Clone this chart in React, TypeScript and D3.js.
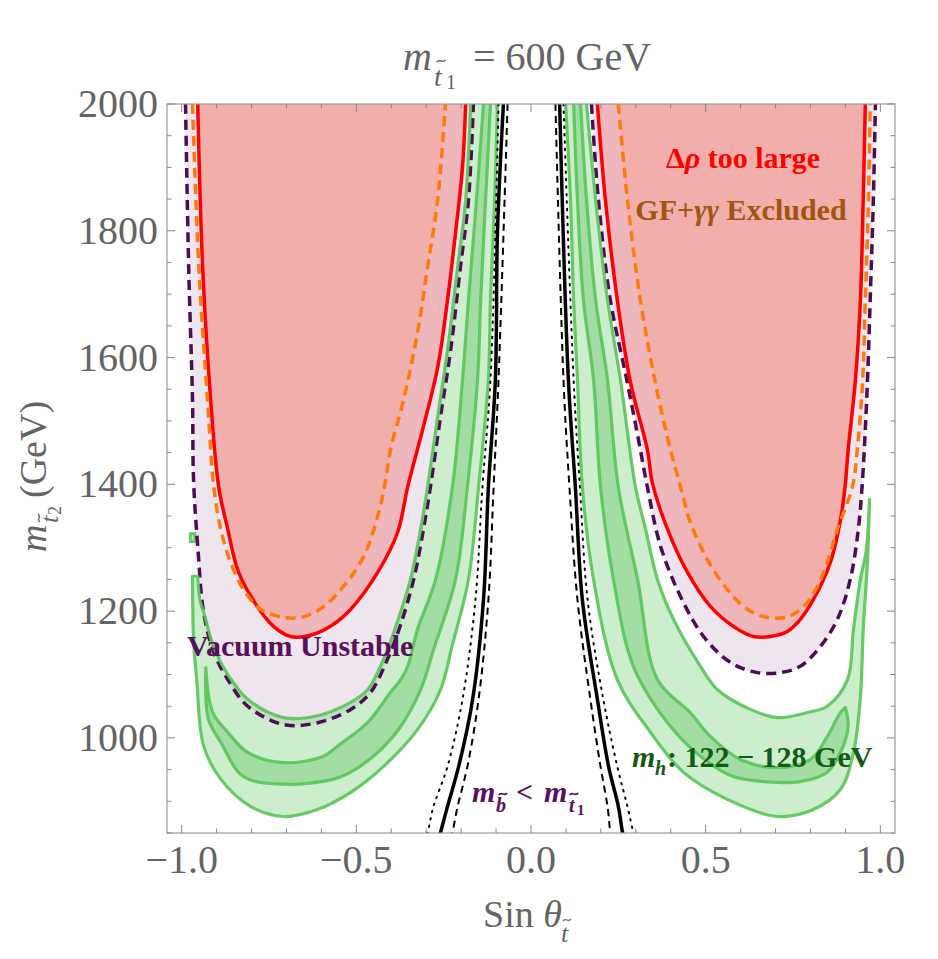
import React from "react";
import * as d3 from "d3";

type Pt = [number, number];

// [sin theta, m_t2 (GeV)] along each boundary

// Delta rho exclusion (solid red)
const deltaRhoLeft: Pt[] = [
  [-0.954, 2000], [-0.94, 1743], [-0.917, 1533], [-0.894, 1396], [-0.868, 1329], [-0.837, 1261],
  [-0.783, 1207], [-0.737, 1176], [-0.688, 1160], [-0.631, 1162], [-0.574, 1176], [-0.516, 1203],
  [-0.439, 1261], [-0.382, 1324], [-0.353, 1396], [-0.308, 1491], [-0.267, 1585], [-0.239, 1691],
  [-0.216, 1797], [-0.196, 1901], [-0.187, 2000],
];
const deltaRhoRight: Pt[] = [
  [0.19, 2000], [0.213, 1849], [0.247, 1691], [0.285, 1560], [0.333, 1455], [0.348, 1401],
  [0.391, 1329], [0.448, 1261], [0.514, 1207], [0.579, 1176], [0.637, 1160], [0.685, 1160],
  [0.734, 1168], [0.771, 1187], [0.808, 1218], [0.857, 1277], [0.886, 1344], [0.9, 1401],
  [0.908, 1455], [0.928, 1560], [0.943, 1691], [0.951, 1849], [0.957, 2000],
];

// GF + gamma gamma exclusion (dashed orange)
const gfGammaLeft: Pt[] = [
  [-0.969, 2000], [-0.951, 1743], [-0.926, 1533], [-0.908, 1396], [-0.888, 1329], [-0.86, 1277],
  [-0.823, 1234], [-0.774, 1203], [-0.708, 1190], [-0.651, 1191], [-0.594, 1207], [-0.537, 1239],
  [-0.479, 1286], [-0.436, 1355], [-0.416, 1407], [-0.402, 1455], [-0.365, 1533], [-0.325, 1639],
  [-0.296, 1743], [-0.267, 1849], [-0.245, 2000],
];
const gfGammaRight: Pt[] = [
  [0.25, 2000], [0.276, 1849], [0.313, 1691], [0.356, 1560], [0.399, 1455], [0.428, 1396],
  [0.456, 1340], [0.505, 1281], [0.562, 1234], [0.619, 1203], [0.677, 1190], [0.734, 1191],
  [0.78, 1207], [0.82, 1239], [0.848, 1277], [0.877, 1329], [0.92, 1396], [0.934, 1455],
  [0.949, 1560], [0.957, 1691], [0.966, 1849], [0.971, 2000],
];

// vacuum stability (dashed purple)
const vacuumLeft: Pt[] = [
  [-0.989, 2000], [-0.98, 1743], [-0.969, 1533], [-0.966, 1407], [-0.954, 1302], [-0.937, 1198],
  [-0.908, 1135], [-0.868, 1092], [-0.811, 1050], [-0.708, 1021], [-0.611, 1024], [-0.516, 1045],
  [-0.459, 1072], [-0.411, 1124], [-0.373, 1179], [-0.336, 1250], [-0.308, 1329], [-0.288, 1396],
  [-0.259, 1507], [-0.23, 1612], [-0.202, 1743], [-0.179, 1849], [-0.165, 2000],
];
const vacuumRight: Pt[] = [
  [0.173, 2000], [0.193, 1849], [0.227, 1691], [0.276, 1560], [0.313, 1455], [0.333, 1396],
  [0.371, 1302], [0.428, 1223], [0.494, 1160], [0.571, 1119], [0.648, 1103], [0.714, 1103],
  [0.771, 1113], [0.828, 1144], [0.877, 1187], [0.914, 1250], [0.937, 1329], [0.949, 1407],
  [0.963, 1560], [0.971, 1691], [0.98, 1849], [0.986, 2000],
];

// m_h = 122-128 GeV band: outer edge, inner edge, and the darker core strip
const mhOuterLeft: Pt[] = [
  [-0.969, 1255], [-0.966, 1155], [-0.957, 1092], [-0.937, 987], [-0.888, 935], [-0.803, 892],
  [-0.708, 876], [-0.611, 887], [-0.516, 914], [-0.422, 955], [-0.325, 1013], [-0.259, 1076],
  [-0.225, 1147], [-0.179, 1250], [-0.15, 1396], [-0.122, 1565], [-0.116, 1691], [-0.104, 1849],
  [-0.096, 2000],
];
const mhInnerLeft: Pt[] = [
  [-0.954, 1255], [-0.948, 1218], [-0.937, 1198], [-0.908, 1143], [-0.868, 1100], [-0.811, 1061],
  [-0.708, 1032], [-0.611, 1035], [-0.516, 1056], [-0.468, 1076], [-0.419, 1128], [-0.382, 1184],
  [-0.345, 1250], [-0.316, 1329], [-0.296, 1396], [-0.267, 1507], [-0.239, 1612], [-0.21, 1743],
  [-0.187, 1849], [-0.173, 2000],
];
const mhCoreInnerLeft: Pt[] = [
  [-0.931, 1111], [-0.911, 1040], [-0.868, 1009], [-0.811, 977], [-0.708, 961], [-0.594, 971],
  [-0.554, 987], [-0.468, 1024], [-0.402, 1072], [-0.373, 1092], [-0.353, 1113], [-0.325, 1171],
  [-0.273, 1250], [-0.225, 1396], [-0.196, 1565], [-0.179, 1691], [-0.156, 1849], [-0.136, 2000],
];
const mhCoreOuterLeft: Pt[] = [
  [-0.931, 1111], [-0.923, 1029], [-0.888, 993], [-0.823, 939], [-0.708, 927], [-0.565, 935],
  [-0.516, 946], [-0.439, 977], [-0.373, 1018], [-0.316, 1076], [-0.279, 1139], [-0.216, 1250],
  [-0.182, 1396], [-0.153, 1565], [-0.144, 1691], [-0.13, 1849], [-0.116, 2000],
];
const mhSpeckLeft: Pt[] = [[-0.975, 1322], [-0.962, 1322], [-0.962, 1310], [-0.975, 1310]];

const mhOuterRight: Pt[] = [
  [0.099, 2000], [0.113, 1849], [0.122, 1691], [0.133, 1565], [0.147, 1396], [0.179, 1250],
  [0.247, 1092], [0.342, 1009], [0.436, 946], [0.562, 903], [0.705, 876], [0.808, 887],
  [0.886, 919], [0.923, 977], [0.943, 1065], [0.951, 1171], [0.963, 1277], [0.969, 1376],
];
const mhInnerRight: Pt[] = [
  [0.969, 1376], [0.96, 1297], [0.943, 1250], [0.923, 1171], [0.906, 1092], [0.848, 1050],
  [0.791, 1040], [0.705, 1032], [0.628, 1045], [0.534, 1076], [0.485, 1113], [0.408, 1187],
  [0.362, 1250], [0.328, 1329], [0.299, 1396], [0.256, 1565], [0.219, 1691], [0.185, 1849],
  [0.159, 2000],
];
const mhCoreInnerRight: Pt[] = [
  [0.142, 2000], [0.159, 1849], [0.185, 1691], [0.219, 1565], [0.25, 1396], [0.305, 1250],
  [0.362, 1092], [0.456, 1040], [0.514, 1002], [0.599, 966], [0.705, 953], [0.8, 966],
  [0.848, 1002], [0.886, 1040], [0.9, 1048],
];
const mhCoreOuterRight: Pt[] = [
  [0.9, 1048], [0.908, 1018], [0.886, 977], [0.848, 946], [0.771, 931], [0.705, 930],
  [0.579, 939], [0.485, 971], [0.391, 1024], [0.293, 1113], [0.236, 1250], [0.199, 1396],
  [0.179, 1565], [0.15, 1691], [0.133, 1849], [0.122, 2000],
];

// m_sbottom = m_stop1 boundary (solid) and its two neighbours
const sbSolidLeft: Pt[] = [
  [-0.079, 2000], [-0.096, 1797], [-0.102, 1565], [-0.122, 1396], [-0.136, 1218], [-0.167, 1061],
  [-0.207, 955], [-0.239, 892], [-0.259, 851], [-0.266, 838],
];
const sbDottedLeft: Pt[] = [
  [-0.093, 2000], [-0.116, 1565], [-0.139, 1396], [-0.159, 1218], [-0.196, 1061], [-0.239, 955],
  [-0.279, 892], [-0.296, 851], [-0.305, 838],
];
const sbDashedLeft: Pt[] = [
  [-0.067, 2000], [-0.093, 1565], [-0.107, 1396], [-0.122, 1218], [-0.15, 1061], [-0.182, 955],
  [-0.21, 892], [-0.225, 851], [-0.232, 838],
];
const sbSolidRight: Pt[] = [
  [0.082, 2000], [0.107, 1565], [0.127, 1396], [0.147, 1218], [0.19, 1061], [0.222, 955],
  [0.25, 892], [0.262, 851], [0.268, 838],
];
const sbDottedRight: Pt[] = [
  [0.093, 2000], [0.122, 1565], [0.14, 1396], [0.162, 1218], [0.207, 1061], [0.247, 955],
  [0.276, 892], [0.293, 851], [0.3, 838],
];
const sbDashedRight: Pt[] = [
  [0.07, 2000], [0.093, 1565], [0.11, 1396], [0.133, 1218], [0.17, 1061], [0.199, 955],
  [0.219, 892], [0.227, 851], [0.232, 838],
];

const xMajor = [-1, -0.5, 0, 0.5, 1];
const xMinor = d3.range(-10, 11).map((i) => i / 10);
const yMajor = [1000, 1200, 1400, 1600, 1800, 2000];
const yMinor = d3.range(850, 2001, 50);

const W = 938;
const H = 959;
const plot = { left: 167, right: 895, top: 104, bottom: 833 };
const serif = "'Liberation Serif', 'Times New Roman', serif";
const gray = "#646464";

const x = d3.scaleLinear().domain([-1.042, 1.042]).range([plot.left, plot.right]);
const y = d3.scaleLinear().domain([850, 2000]).range([plot.bottom, plot.top]);

const smooth = d3.line<Pt>().x((d) => x(d[0])).y((d) => y(d[1])).curve(d3.curveCatmullRom.alpha(0.5));
const straight = d3.line<Pt>().x((d) => x(d[0])).y((d) => y(d[1]));
const closedSmooth = (p: Pt[]) => `${smooth(p)}Z`;

// two smooth contour pieces chained end to start
const chain = (a: Pt[], b: Pt[]) => `${smooth(a)}${(smooth(b) ?? "").replace(/^M/, "L")}`;

const fmtX = (v: number) => (v < 0 ? "\u2212" + Math.abs(v).toFixed(1) : v.toFixed(1));

// small wave drawn over a letter
const tilde = (cx: number, cy: number, w: number, h: number) =>
  `M${cx - w / 2},${cy + h * 0.35} C${cx - w / 4},${cy - h} ${cx + w / 4},${cy + h} ${cx + w / 2},${cy - h * 0.35}`;

const greenStroke = "rgba(88,196,88,0.9)";
const lightGreen = "rgba(120,210,120,0.38)";
const coreGreen = "rgba(90,190,90,0.35)";

export default function App() {
  // light band: outer edge then inner edge; core strip: its two edges meeting at the tip
  const lightLeft = chain([...mhInnerLeft].reverse(), mhOuterLeft);
  const lightRight = chain(mhOuterRight, mhInnerRight);
  const coreLeft = chain([...mhCoreOuterLeft].reverse(), mhCoreInnerLeft);
  const coreRight = chain(mhCoreInnerRight, mhCoreOuterRight);

  return (
    <svg width={W} height={H} style={{ position: "absolute", left: 0, top: 0, background: "#fff" }} fontFamily={serif}>
      <defs>
        <clipPath id="plotArea">
          <rect x={plot.left} y={plot.top} width={plot.right - plot.left} height={plot.bottom - plot.top} />
        </clipPath>
        <clipPath id="rhoArea">
          <path d={closedSmooth(deltaRhoLeft)} />
          <path d={closedSmooth(deltaRhoRight)} />
        </clipPath>
      </defs>

      <g clipPath="url(#plotArea)">
        {/* shaded regions */}
        {[vacuumLeft, vacuumRight].map((p, i) => (
          <path key={"vf" + i} d={closedSmooth(p)} fill="#EEE5EF" />
        ))}
        {[deltaRhoLeft, deltaRhoRight].map((p, i) => (
          <path key={"rf" + i} d={closedSmooth(p)} fill="#EFB6BC" />
        ))}
        <g clipPath="url(#rhoArea)">
          {[gfGammaLeft, gfGammaRight].map((p, i) => (
            <path key={"of" + i} d={closedSmooth(p)} fill="#F2AEAA" />
          ))}
        </g>

        {/* m_h band */}
        {[lightLeft, lightRight].map((d, i) => (
          <path key={"gl" + i} d={d + "Z"} fill={lightGreen} />
        ))}
        <path d={`${straight(mhSpeckLeft)}Z`} fill={lightGreen} stroke={greenStroke} strokeWidth={3} />
        {[coreLeft, coreRight].map((d, i) => (
          <path key={"gc" + i} d={d + "Z"} fill={coreGreen} />
        ))}

        {[vacuumLeft, vacuumRight].map((p, i) => (
          <path key={"vl" + i} d={smooth(p) ?? ""} fill="none" stroke="#4E0C55" strokeWidth={3.5} strokeDasharray="10 6" />
        ))}

        {[lightLeft, lightRight, coreLeft, coreRight].map((d, i) => (
          <path key={"gs" + i} d={d} fill="none" stroke={greenStroke} strokeWidth={3.2} strokeLinejoin="round" />
        ))}

        {[deltaRhoLeft, deltaRhoRight].map((p, i) => (
          <path key={"rl" + i} d={smooth(p) ?? ""} fill="none" stroke="#FF0000" strokeWidth={3.5} />
        ))}
        {[gfGammaLeft, gfGammaRight].map((p, i) => (
          <path key={"ol" + i} d={smooth(p) ?? ""} fill="none" stroke="#FF7A0A" strokeWidth={3.5} strokeDasharray="10 6" />
        ))}

        {/* sbottom / stop1 boundaries */}
        {[sbSolidLeft, sbSolidRight].map((p, i) => (
          <path key={"bs" + i} d={smooth(p) ?? ""} fill="none" stroke="#000" strokeWidth={3.5} />
        ))}
        {[sbDashedLeft, sbDashedRight].map((p, i) => (
          <path key={"bd" + i} d={smooth(p) ?? ""} fill="none" stroke="#000" strokeWidth={2} strokeDasharray="7 5" />
        ))}
        {[sbDottedLeft, sbDottedRight].map((p, i) => (
          <path key={"bt" + i} d={smooth(p) ?? ""} fill="none" stroke="#000" strokeWidth={2} strokeDasharray="1.5 6" strokeLinecap="round" />
        ))}
      </g>

      {/* frame and ticks */}
      <rect x={plot.left} y={plot.top} width={plot.right - plot.left} height={plot.bottom - plot.top} fill="none" stroke="#999" strokeWidth={1.2} />
      {xMinor.map((v) => {
        const len = xMajor.some((m) => Math.abs(m - v) < 1e-9) ? 8 : 4.5;
        return (
          <g key={"xt" + v} stroke="#888" strokeWidth={1}>
            <line x1={x(v)} x2={x(v)} y1={plot.bottom} y2={plot.bottom - len} />
            <line x1={x(v)} x2={x(v)} y1={plot.top} y2={plot.top + len} />
          </g>
        );
      })}
      {yMinor.map((v) => {
        const len = v % 200 === 0 ? 8 : 4.5;
        return (
          <g key={"yt" + v} stroke="#888" strokeWidth={1}>
            <line x1={plot.left} x2={plot.left + len} y1={y(v)} y2={y(v)} />
            <line x1={plot.right} x2={plot.right - len} y1={y(v)} y2={y(v)} />
          </g>
        );
      })}
      {xMajor.map((v) => (
        <text key={"xl" + v} x={x(v)} y={873} textAnchor="middle" fontSize={40} fill={gray}>
          {fmtX(v)}
        </text>
      ))}
      {yMajor.map((v) => (
        <text key={"yl" + v} x={158} y={y(v) + 13} textAnchor="end" fontSize={40} fill={gray}>
          {v}
        </text>
      ))}

      {/* title */}
      <g fill={gray}>
        <text x={403} y={70} fontSize={40} fontStyle="italic">m</text>
        <text x={434} y={86} fontSize={28} fontStyle="italic">t</text>
        <text x={446} y={89} fontSize={20}>1</text>
        <text x={473} y={70} fontSize={40}>= 600 GeV</text>
      </g>
      <path d={tilde(441, 61, 9, 3)} fill="none" stroke={gray} strokeWidth={1.4} />

      {/* x axis title */}
      <g fill={gray}>
        <text x={483} y={927} fontSize={38}>
          Sin <tspan fontStyle="italic">θ</tspan>
        </text>
        <text x={561} y={942} fontSize={26} fontStyle="italic">t</text>
      </g>
      <path d={tilde(567, 920, 8, 3)} fill="none" stroke={gray} strokeWidth={1.3} />

      {/* y axis title */}
      <g transform="translate(46,552) rotate(-90)">
        <g fill={gray}>
          <text x={0} y={0} fontSize={38} fontStyle="italic">m</text>
          <text x={29} y={12} fontSize={26} fontStyle="italic">t</text>
          <text x={37} y={15} fontSize={18}>2</text>
          <text x={54} y={0} fontSize={38}>(GeV)</text>
        </g>
        <path d={tilde(34, -7, 8, 3)} fill="none" stroke={gray} strokeWidth={1.3} />
      </g>

      {/* region labels */}
      <text x={743} y={168} textAnchor="middle" fontSize={30} fontWeight="bold" fill="#FF0000">
        Δ<tspan fontStyle="italic">ρ</tspan> too large
      </text>
      <text x={741} y={220} textAnchor="middle" fontSize={30} fontWeight="bold" fill="#A0560F">
        GF+<tspan fontStyle="italic">γγ</tspan> Excluded
      </text>
      <text x={187} y={656} fontSize={30} fontWeight="bold" fill="#5A0F5A">
        Vacuum Unstable
      </text>
      <g fill="#145A14" fontWeight="bold">
        <text x={632} y={767} fontSize={30} fontStyle="italic">m</text>
        <text x={655} y={775} fontSize={20} fontStyle="italic">h</text>
        <text x={667} y={767} fontSize={30}>: 122 − 128 GeV</text>
      </g>
      <g fill="#5A0F5A" fontWeight="bold">
        <text x={472} y={802} fontSize={30} fontStyle="italic">m</text>
        <text x={496} y={812} fontSize={20} fontStyle="italic">b</text>
        <text x={516} y={802} fontSize={30}>&lt;</text>
        <text x={544} y={802} fontSize={30} fontStyle="italic">m</text>
        <text x={569} y={812} fontSize={20} fontStyle="italic">t</text>
        <text x={577} y={815} fontSize={15}>1</text>
      </g>
      <g fill="none" stroke="#5A0F5A" strokeWidth={1.8}>
        <path d={tilde(503, 794, 8, 3)} />
        <path d={tilde(574, 794, 8, 3)} />
      </g>
    </svg>
  );
}
